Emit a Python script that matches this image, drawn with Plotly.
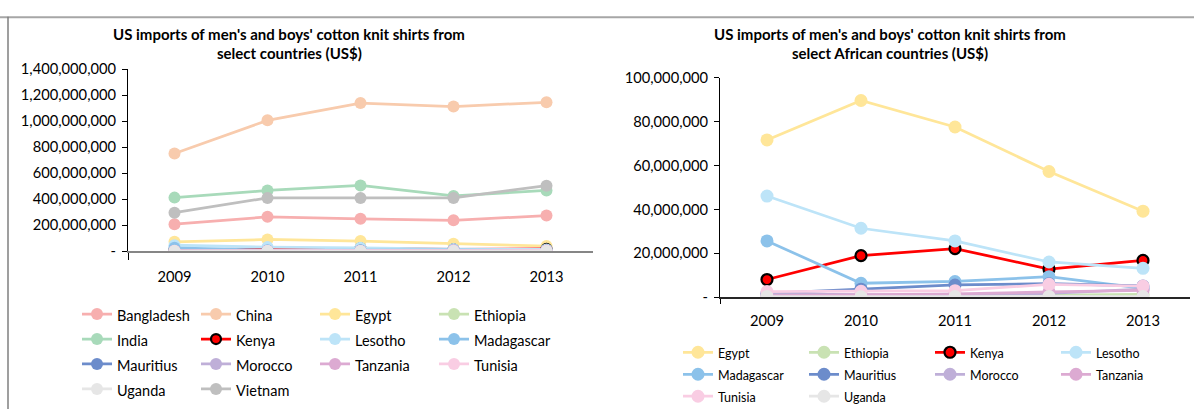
import plotly.graph_objects as go

W, H = 1194, 417

# ---- data (US$) -------------------------------------------------------------
YEARS = [2009, 2010, 2011, 2012, 2013]

BANGLADESH = [207_000_000, 264_000_000, 249_000_000, 237_000_000, 274_000_000]
CHINA = [752_000_000, 1_007_000_000, 1_140_000_000, 1_113_000_000, 1_146_000_000]
EGYPT = [71_700_000, 89_700_000, 77_600_000, 57_300_000, 39_200_000]
ETHIOPIA = [300_000, 400_000, 600_000, 900_000, 1_200_000]
INDIA = [412_000_000, 467_000_000, 506_000_000, 425_000_000, 467_000_000]
KENYA = [8_000_000, 18_900_000, 22_100_000, 12_800_000, 16_700_000]
LESOTHO = [46_100_000, 31_400_000, 25_600_000, 16_000_000, 13_100_000]
MADAGASCAR = [25_600_000, 6_300_000, 7_100_000, 9_300_000, 4_000_000]
MAURITIUS = [1_700_000, 3_600_000, 5_500_000, 6_100_000, 5_100_000]
MOROCCO = [1_500_000, 1_200_000, 800_000, 1_700_000, 3_600_000]
TANZANIA = [600_000, 1_000_000, 1_400_000, 2_400_000, 3_000_000]
TUNISIA = [2_500_000, 2_600_000, 2_900_000, 5_800_000, 5_000_000]
UGANDA = [200_000, 100_000, 200_000, 300_000, 200_000]
VIETNAM = [296_000_000, 410_000_000, 410_000_000, 410_000_000, 504_000_000]

ALL_COUNTRIES = ["Bangladesh", "China", "Egypt", "Ethiopia", "India", "Kenya",
                 "Lesotho", "Madagascar", "Mauritius", "Morocco", "Tanzania",
                 "Tunisia", "Uganda", "Vietnam"]
AFRICAN_COUNTRIES = ["Egypt", "Ethiopia", "Kenya", "Lesotho", "Madagascar",
                     "Mauritius", "Morocco", "Tanzania", "Tunisia", "Uganda"]

SERIES = {
    "Bangladesh": BANGLADESH, "China": CHINA, "Egypt": EGYPT,
    "Ethiopia": ETHIOPIA, "India": INDIA, "Kenya": KENYA, "Lesotho": LESOTHO,
    "Madagascar": MADAGASCAR, "Mauritius": MAURITIUS, "Morocco": MOROCCO,
    "Tanzania": TANZANIA, "Tunisia": TUNISIA, "Uganda": UGANDA,
    "Vietnam": VIETNAM,
}

LEFT_TITLE = ["US imports of men's and boys' cotton knit shirts from",
              "select countries (US$)"]
RIGHT_TITLE = ["US imports of men's and boys' cotton knit shirts from",
               "select African countries (US$)"]

LEFT_Y_TICKS = [0, 200_000_000, 400_000_000, 600_000_000, 800_000_000,
                1_000_000_000, 1_200_000_000, 1_400_000_000]
LEFT_Y_LABELS = ["-", "200,000,000", "400,000,000", "600,000,000",
                 "800,000,000", "1,000,000,000", "1,200,000,000",
                 "1,400,000,000"]
RIGHT_Y_TICKS = [0, 20_000_000, 40_000_000, 60_000_000, 80_000_000,
                 100_000_000]
RIGHT_Y_LABELS = ["-", "20,000,000", "40,000,000", "60,000,000",
                  "80,000,000", "100,000,000"]

# ---- styles -----------------------------------------------------------------
COLORS = {
    "Bangladesh": "#F7AFAF", "China": "#F8CBAD", "Egypt": "#FFE699",
    "Ethiopia": "#C9E2B3", "India": "#A8DABA", "Kenya": "#FF0000",
    "Lesotho": "#BDE4F8", "Madagascar": "#8CC2EA", "Mauritius": "#6C8CCB",
    "Morocco": "#BFAFD8", "Tanzania": "#DCAAD2", "Tunisia": "#F9CDE3",
    "Uganda": "#E6E6E6", "Vietnam": "#BFBFBF",
}
FONT = "Lato"


def px_x(p):
    return p / W


def px_y(p):
    return 1 - p / H


fig = go.Figure()


def add_series(names, xa, ya, legend_id, group_prefix, msize, text_px):
    for i, name in enumerate(names):
        color = COLORS[name]
        kenya = name == "Kenya"
        fig.add_trace(go.Scatter(
            x=YEARS, y=SERIES[name],
            name=f'<span style="font-size:{text_px}px">{name}</span>',
            mode="lines+markers",
            line=dict(color=color, width=2.75),
            marker=dict(size=msize - 2 if kenya else msize, color=color,
                        symbol="circle",
                        line=dict(color="black" if kenya else color,
                                  width=2.2 if kenya else 0)),
            xaxis=xa, yaxis=ya, legend=legend_id,
            legendgroup=f"{group_prefix}{i % 4}",
            hovertemplate=f"{name} %{{x}}: %{{y:,.0f}}<extra></extra>",
        ))


add_series(ALL_COUNTRIES, "x", "y", "legend", "L", 12, 14.5)
add_series(AFRICAN_COUNTRIES, "x2", "y2", "legend2", "R", 13, 12.5)

axis_common = dict(showgrid=False, zeroline=False, showline=True,
                   fixedrange=True)
tick_font = dict(size=14.7, family=FONT, color="black")

fig.update_layout(
    width=W, height=H,
    margin=dict(l=0, r=0, t=0, b=0),
    paper_bgcolor="white", plot_bgcolor="white",
    font=dict(family=FONT, color="black"),
    xaxis=dict(domain=[px_x(128), px_x(593)], range=[2008.5, 2013.5],
               tickvals=YEARS, ticktext=[str(y) for y in YEARS],
               ticks="", tickfont=tick_font, ticklabelstandoff=11,
               linecolor="#868686", linewidth=1.5, anchor="y",
               minor=dict(tickmode="array", tickvals=[2008.5],
                          ticks="outside", ticklen=7, tickcolor="black",
                          tickwidth=1),
               **axis_common),
    yaxis=dict(domain=[px_y(252), px_y(62)], range=[0, 1_400_000_000],
               tickvals=LEFT_Y_TICKS, ticktext=LEFT_Y_LABELS,
               ticks="outside", ticklen=5, tickcolor="black",
               tickfont=tick_font, ticklabelstandoff=3,
               linecolor="black", linewidth=1, anchor="x", **axis_common),
    xaxis2=dict(domain=[px_x(720), px_x(1190)], range=[2008.5, 2013.5],
                tickvals=YEARS, ticktext=[str(y) for y in YEARS],
                ticks="", tickfont=tick_font, ticklabelstandoff=10,
                linecolor="#262626", linewidth=1.5, anchor="y2",
                minor=dict(tickmode="array", tickvals=[2008.5],
                           ticks="outside", ticklen=5, tickcolor="black",
                           tickwidth=1),
                **axis_common),
    yaxis2=dict(domain=[px_y(300), px_y(71)], range=[0, 100_000_000],
                tickvals=RIGHT_Y_TICKS, ticktext=RIGHT_Y_LABELS,
                ticks="outside", ticklen=5, tickcolor="black",
                tickfont=tick_font, ticklabelstandoff=3,
                linecolor="black", linewidth=1, anchor="x2", **axis_common),
    legend=dict(x=px_x(77), y=px_y(299.5), xanchor="left", yanchor="top",
                orientation="h", traceorder="grouped", tracegroupgap=0,
                entrywidth=74, entrywidthmode="pixels",
                font=dict(size=16.9, family=FONT, color="black"),
                bgcolor="rgba(0,0,0,0)", borderwidth=0),
    legend2=dict(x=px_x(678), y=px_y(341), xanchor="left", yanchor="top",
                 orientation="h", traceorder="grouped", tracegroupgap=0,
                 entrywidth=81, entrywidthmode="pixels",
                 font=dict(size=14.6, family=FONT, color="black"),
                 bgcolor="rgba(0,0,0,0)", borderwidth=0),
    showlegend=True,
)

# chart titles, one annotation per line
for lines, cx in ((LEFT_TITLE, 289), (RIGHT_TITLE, 890)):
    for k, line in enumerate(lines):
        fig.add_annotation(text=line, x=px_x(cx), y=px_y(25 + 20 * k),
                           xref="paper", yref="paper", xanchor="center",
                           yanchor="middle", showarrow=False,
                           font=dict(family=FONT, size=15, weight=700,
                                     color="black"))

# frame lines around the chart block
fig.add_shape(type="line", xref="paper", yref="paper",
              x0=0, x1=1, y0=px_y(7.5), y1=px_y(7.5),
              line=dict(color="#A6A6A6", width=2))
fig.add_shape(type="line", xref="paper", yref="paper",
              x0=px_x(8), x1=px_x(8), y0=0, y1=px_y(7),
              line=dict(color="#7F7F7F", width=1.5))

fig.write_html("out.html")
